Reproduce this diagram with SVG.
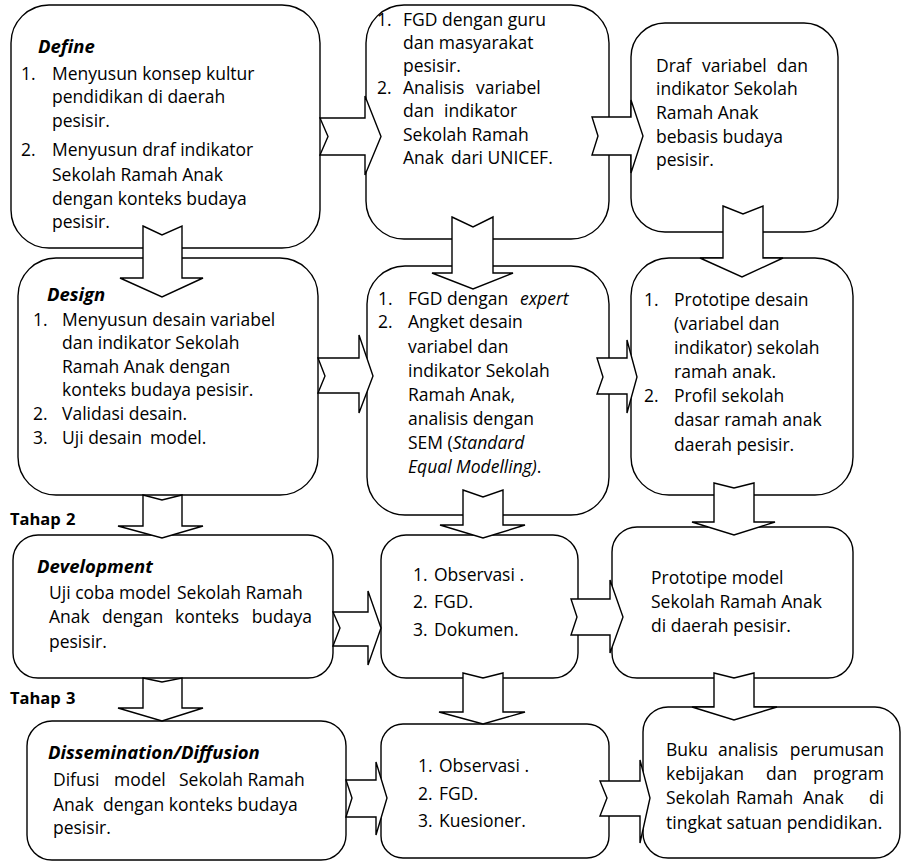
<svg xmlns="http://www.w3.org/2000/svg" width="902" height="866" viewBox="0 0 902 866">
<style>
.box{fill:#fff;stroke:#000;stroke-width:1.4}
.arr{fill:#fff;stroke:#000;stroke-width:1.4;stroke-linejoin:miter}
text{font-family:"Open Sans","Noto Sans","DejaVu Sans",sans-serif;font-size:17.5px;fill:#000}
.h{font-weight:bold;font-style:italic;font-size:18.5px}
.t{font-weight:bold;font-size:16.5px}
.i{font-style:italic}
.e{text-anchor:end}
</style>
<rect width="902" height="866" fill="#fff"/>
<g id="nodes">
<g id="n-define"><rect class="box" x="11" y="5" width="309" height="243" rx="38"/>
<text class="h" x="38" y="53">Define</text>
<text x="21" y="80">1.</text><text x="52" y="80">Menyusun konsep kultur</text>
<text x="52" y="103">pendidikan di daerah</text>
<text x="52" y="127">pesisir.</text>
<text x="21" y="156">2.</text><text x="52" y="156">Menyusun draf indikator</text>
<text x="52" y="181">Sekolah Ramah Anak</text>
<text x="52" y="205">dengan konteks budaya</text>
<text x="52" y="228">pesisir.</text></g>
<g id="n-fgd1"><rect class="box" x="366" y="5" width="243" height="234" rx="38"/>
<text x="377" y="26">1.</text><text x="403" y="26">FGD dengan guru</text>
<text x="403" y="49">dan masyarakat</text>
<text x="403" y="72">pesisir.</text>
<text x="377" y="94">2.</text><text x="403" y="94">Analisis <tspan x="476">variabel</tspan></text>
<text x="403" y="117">dan <tspan x="444">indikator</tspan></text>
<text x="403" y="141">Sekolah Ramah</text>
<text x="403" y="164">Anak <tspan x="451">dari UNICEF.</tspan></text></g>
<g id="n-draf"><rect class="box" x="631" y="23" width="207" height="209" rx="34"/>
<text x="656" y="72">Draf</text><text x="702" y="72">variabel</text><text class="e" x="808" y="72">dan</text>
<text x="656" y="95">indikator Sekolah</text>
<text x="656" y="119">Ramah Anak</text>
<text x="656" y="143">bebasis budaya</text>
<text x="656" y="166">pesisir.</text></g>
<g id="n-design"><rect class="box" x="18" y="258" width="300" height="237" rx="38"/>
<text class="h" x="47" y="301">Design</text>
<text x="33" y="326">1.</text><text x="62" y="326">Menyusun desain variabel</text>
<text x="62" y="349">dan indikator Sekolah</text>
<text x="62" y="373">Ramah Anak dengan</text>
<text x="62" y="396">konteks budaya pesisir.</text>
<text x="33" y="420">2.</text><text x="62" y="420">Validasi desain.</text>
<text x="33" y="444">3.</text><text x="62" y="444">Uji desain <tspan x="150">model.</tspan></text></g>
<g id="n-fgd2"><rect class="box" x="367" y="266" width="242" height="249" rx="38"/>
<text x="378" y="305">1.</text><text x="408" y="305">FGD dengan <tspan class="i" x="520">expert</tspan></text>
<text x="378" y="328">2.</text><text x="408" y="328">Angket desain</text>
<text x="408" y="353">variabel dan</text>
<text x="408" y="377">indikator Sekolah</text>
<text x="408" y="401">Ramah Anak,</text>
<text x="408" y="425">analisis dengan</text>
<text x="408" y="449">SEM (<tspan class="i">Standard</tspan></text>
<text x="408" y="473"><tspan class="i">Equal Modelling)</tspan>.</text></g>
<g id="n-proto1"><rect class="box" x="631" y="258" width="222" height="237" rx="38"/>
<text x="644" y="306">1.</text><text x="674" y="306">Prototipe desain</text>
<text x="674" y="330">(variabel dan</text>
<text x="674" y="354">indikator) sekolah</text>
<text x="674" y="378">ramah anak.</text>
<text x="644" y="402">2.</text><text x="674" y="402">Profil sekolah</text>
<text x="674" y="426">dasar ramah anak</text>
<text x="674" y="451">daerah pesisir.</text></g>
<g id="n-dev"><rect class="box" x="13" y="535" width="320" height="143" rx="25"/>
<text class="h" x="37" y="573">Development</text>
<text x="49" y="599">Uji coba model <tspan x="177">Sekolah Ramah</tspan></text>
<text x="49" y="623">Anak</text><text x="102" y="623">dengan</text><text x="175" y="623">konteks</text><text class="e" x="312" y="623">budaya</text>
<text x="49" y="648">pesisir.</text></g>
<g id="n-obs1"><rect class="box" x="381" y="535" width="197" height="143" rx="25"/>
<text x="413" y="581">1.</text><text x="434" y="581">Observasi .</text>
<text x="413" y="608">2.</text><text x="434" y="608">FGD.</text>
<text x="413" y="636">3.</text><text x="434" y="636">Dokumen.</text></g>
<g id="n-proto2"><rect class="box" x="612" y="527" width="241" height="151" rx="25"/>
<text x="651" y="584">Prototipe model</text>
<text x="651" y="608">Sekolah Ramah Anak</text>
<text x="651" y="632">di daerah pesisir.</text></g>
<g id="n-diss"><rect class="box" x="27" y="721" width="319" height="139" rx="25"/>
<text class="h" x="48" y="759">Dissemination/Diffusion</text>
<text x="53" y="786">Difusi <tspan x="114">model</tspan> <tspan x="179">Sekolah Ramah</tspan></text>
<text x="53" y="811">Anak</text><text x="103" y="811">dengan konteks budaya</text>
<text x="53" y="834">pesisir.</text></g>
<g id="n-obs2"><rect class="box" x="381" y="724" width="228" height="134" rx="22"/>
<text x="418" y="772">1.</text><text x="439" y="772">Observasi .</text>
<text x="418" y="800">2.</text><text x="439" y="800">FGD.</text>
<text x="418" y="827">3.</text><text x="439" y="827">Kuesioner.</text></g>
<g id="n-buku"><rect class="box" x="643" y="707" width="257" height="151" rx="25"/>
<text x="666" y="756">Buku</text><text x="718" y="756">analisis</text><text class="e" x="884" y="756">perumusan</text>
<text x="666" y="780">kebijakan</text><text x="766" y="780">dan</text><text class="e" x="884" y="780">program</text>
<text x="666" y="804">Sekolah</text><text x="736" y="804">Ramah</text><text x="803" y="804">Anak</text><text class="e" x="884" y="804">di</text>
<text x="666" y="829">tingkat satuan pendidikan.</text></g>
<g id="labels">
<text class="t" x="10" y="525">Tahap <tspan x="66">2</tspan></text>
<text class="t" x="10" y="704">Tahap <tspan x="66">3</tspan></text></g>
</g>
<g id="connectors">
<path class="arr" d="M320,118 H365 V96 L381,136.5 L365,175 V155 H320 L328,136.5 Z"/>
<path class="arr" d="M592,117 H631 V100 L643,136 L631,173 V155 H592 L598,136 Z"/>
<path class="arr" d="M143,226 L162,235 L182,226 V278 H203 L162,297 L120,278 H143 Z"/>
<path class="arr" d="M452,217 L473,227 L493,217 V273 H513 L473,289 L432,273 H452 Z"/>
<path class="arr" d="M723,206 L743,214 L763,206 V258 H783 L742,277 L700,258 H723 Z"/>
<path class="arr" d="M318,358 H359 V335 L373,376 L359,413 V393 H318 L325,376 Z"/>
<path class="arr" d="M597,358 H627 V340 L637,377 L627,413 V394 H597 L603,377 Z"/>
<path class="arr" d="M143,495 L162,500 L182,495 V526 H203 L162,538 L118,526 H143 Z"/>
<path class="arr" d="M463,490 L483,497 L503,490 V525 H525 L483,538 L440,525 H463 Z"/>
<path class="arr" d="M714,483 L734,488 L754,483 V522 H775 L734,535 L692,522 H714 Z"/>
<path class="arr" d="M333,612 H368 V591 L381,628 L368,665 V646 H333 L340,628 Z"/>
<path class="arr" d="M571,599 H610 V580 L623,617 L610,653 V635 H571 L577,617 Z"/>
<path class="arr" d="M143,678 L162,682 L182,678 V708 H203 L162,721 L118,708 H143 Z"/>
<path class="arr" d="M463,673 L483,678 L503,673 V712 H525 L483,724 L439,712 H463 Z"/>
<path class="arr" d="M714,673 L734,678 L754,673 V707 H777 L734,720 L692,707 H714 Z"/>
<path class="arr" d="M346,780 H376 V762 L387,798 L376,835 V817 H346 L352,798 Z"/>
<path class="arr" d="M600,781 H640 V760 L650,798 L640,843 V816 H600 L607,798 Z"/>
</g>
</svg>
